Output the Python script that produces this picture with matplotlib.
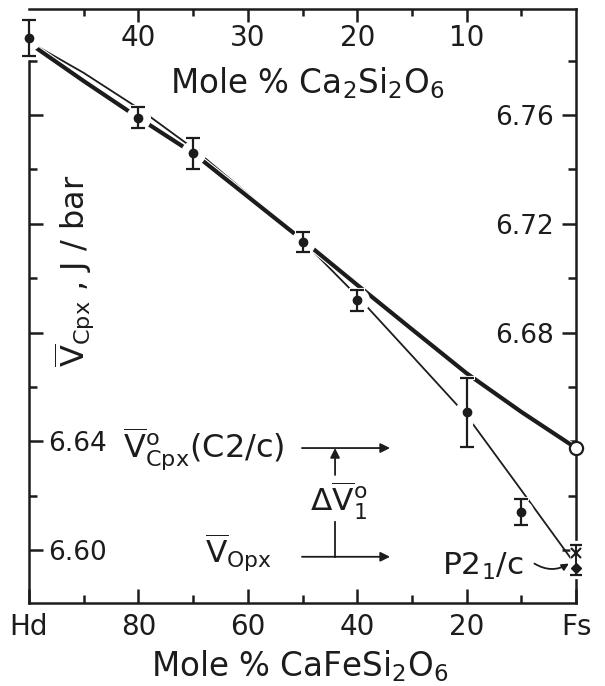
import matplotlib
matplotlib.use('Agg')
import matplotlib.pyplot as plt
import matplotlib.patheffects as pe

plt.rcParams['font.family'] = ['DejaVu Sans']
plt.rcParams['mathtext.default'] = 'regular'

ink = '#1c1c1c'

# ---------------- data ----------------
# measured (experimental) points, mole % CaFeSi2O6
pct_exp = [100, 80, 70, 50, 40, 20, 10]
v_exp = [6.7883, 6.7590, 6.7460, 6.7134, 6.6918, 6.6506, 6.6140]
v_err = [0.0065, 0.0039, 0.0057, 0.0037, 0.0040, 0.0127, 0.0049]

# fitted curves
pct_curve = [100, 90, 80, 70, 60, 50, 40, 30, 20, 10, 0]
v_c2c = [6.7865, 6.7725, 6.7590, 6.7460, 6.7300, 6.7140, 6.6975, 6.6812, 6.6650, 6.6508, 6.6375]
v_p21c = [6.7870, 6.7755, 6.7625, 6.7478, 6.7310, 6.7138, 6.6934, 6.6715, 6.6495, 6.6220, 6.5943]

# end-member Fs values
fs_c2c = 6.6375          # open circle, V°Cpx (C2/c)
fs_p21c_x = 6.5990       # x marker
fs_p21c_dot = 6.5935     # filled marker
fs_p21c_lo, fs_p21c_hi = 6.5908, 6.6018
v_opx = 6.5975

bottom_ticks = [100, 80, 60, 40, 20, 0]
bottom_labels = ['Hd', '80', '60', '40', '20', 'Fs']
bottom_minor = [90, 70, 50, 30, 10]
top_ticks = [40, 30, 20, 10]
top_labels = ['40', '30', '20', '10']
top_minor = [45, 35, 25, 15, 5]
y_major = [6.60, 6.64, 6.68, 6.72, 6.76]
y_minor = [6.62, 6.66, 6.70, 6.74, 6.78]
left_labels = ['6.60', '6.64', '', '', '']
right_labels = ['', '', '6.68', '6.72', '6.76']

# ---------------- figure ----------------
fig = plt.figure(figsize=(6.05, 6.86), dpi=100)
ax = fig.add_axes([29/605, 83/686, 547/605, 594/686])
ax.set_xlim(100, 0)
ax.set_ylim(6.5805, 6.799)

# curves
ax.plot(pct_curve, v_p21c, color=ink, lw=1.3, zorder=2, solid_capstyle='butt')
ax.plot(pct_curve, v_c2c, color=ink, lw=3.0, zorder=3, solid_capstyle='butt',
        path_effects=[pe.Stroke(linewidth=4.6, foreground='white'), pe.Normal()])

def set_noclip(cont):
    for ch in cont.get_children():
        ch.set_clip_on(False)

# experimental points with white halo
halo = ax.errorbar(pct_exp, v_exp, yerr=v_err, fmt='o', ms=17, color='white',
                   elinewidth=8, capsize=5.5, capthick=3, zorder=4)
set_noclip(halo)
pts = ax.errorbar(pct_exp, v_exp, yerr=v_err, fmt='o', ms=6, color=ink,
                  elinewidth=1.6, capsize=4.7, capthick=1.6, zorder=5)
set_noclip(pts)

# Fs P21/c bracket
fs_mid = (fs_p21c_lo + fs_p21c_hi) / 2
fs_half = (fs_p21c_hi - fs_p21c_lo) / 2
h2 = ax.errorbar([0], [fs_mid], yerr=[fs_half], fmt='none', color='white',
                 elinewidth=9, capsize=7, capthick=6, zorder=4)
set_noclip(h2)
b2 = ax.errorbar([0], [fs_mid], yerr=[fs_half], fmt='none', color=ink,
                 elinewidth=1.4, capsize=4, capthick=1.6, zorder=5)
set_noclip(b2)
ax.plot([0], [fs_p21c_x], 'x', ms=7, mew=1.5, color=ink, zorder=6, clip_on=False)
ax.plot([0], [fs_p21c_dot], 'D', ms=5.5, color=ink, zorder=6, clip_on=False)

# Fs C2/c open circle
ax.plot([0], [fs_c2c], 'o', ms=9.5, mfc='white', mec=ink, mew=1.6, zorder=6, clip_on=False)

# ---------------- axes styling ----------------
for s in ['left', 'right', 'bottom']:
    ax.spines[s].set_linewidth(1.8)
    ax.spines[s].set_color(ink)
ax.spines['top'].set_visible(False)
ax.spines['left'].set_bounds(6.5805, 6.78)

ax.set_xticks(bottom_ticks, bottom_labels)
ax.set_xticks(bottom_minor, minor=True)
ax.set_yticks(y_major, left_labels)
ax.set_yticks(y_minor, minor=True)
ax.tick_params(which='both', direction='in', width=1.8, color=ink, labelcolor=ink,
               left=True, right=True, bottom=True, top=False)
ax.tick_params(which='major', length=10)
ax.tick_params(which='minor', length=6)
ax.tick_params(axis='x', labelsize=20, pad=7)
ax.tick_params(axis='y', labelsize=19, pad=-14)
for lab in ax.get_yticklabels():
    lab.set_ha('left')

sec_y = ax.secondary_yaxis('right')
sec_y.set_yticks(y_major, right_labels)
sec_y.tick_params(length=0, labelsize=19, pad=-16, labelcolor=ink)
sec_y.spines['right'].set_visible(False)
for lab in sec_y.get_yticklabels():
    lab.set_ha('right')

sec_x = ax.secondary_xaxis('top', functions=(lambda p: p / 2, lambda c: c * 2))
sec_x.set_xticks(top_ticks, top_labels)
sec_x.set_xticks(top_minor, minor=True)
sec_x.spines['top'].set_linewidth(1.8)
sec_x.spines['top'].set_color(ink)
sec_x.tick_params(which='both', direction='in', width=1.8, color=ink, labelcolor=ink)
sec_x.tick_params(which='major', length=9, labelsize=20, pad=-31)
sec_x.tick_params(which='minor', length=5)

# axis titles
fig.text(300/605, 1 - 676/686, r'Mole % CaFeSi$_2$O$_6$', ha='center', va='baseline',
         fontsize=23.5, color=ink)
fig.text(307/605, 1 - 93/686, r'Mole % Ca$_2$Si$_2$O$_6$', ha='center', va='baseline',
         fontsize=23.5, color=ink)
ax.text(0.083, 0.56, r'$\overline{V}_{Cpx}$ , J / bar', rotation=90, transform=ax.transAxes,
        ha='center', va='center', fontsize=23, color=ink)

# annotations
ax.text(82.8, 6.6338, r'$\overline{V}^{o}_{Cpx}$(C2/c)', ha='left', va='baseline',
        fontsize=23, color=ink)
ax.text(48.6, 6.6140, r'$\Delta\overline{V}^{o}_{1}$', ha='left', va='baseline',
        fontsize=22.5, color=ink)
ax.text(67.8, 6.5952, r'$\overline{V}_{Opx}$', ha='left', va='baseline',
        fontsize=22.5, color=ink)
ax.text(24.5, 6.5908, r'P2$_1$/c', ha='left', va='baseline', fontsize=22.5, color=ink)

arrow_kw = dict(arrowstyle='-|>', color=ink, lw=1.3, mutation_scale=14, shrinkA=0, shrinkB=0)
ax.annotate('', xy=(34.0, fs_c2c), xytext=(50.1, fs_c2c), arrowprops=arrow_kw)
ax.annotate('', xy=(44.05, fs_c2c), xytext=(44.05, 6.6276), arrowprops=arrow_kw)
ax.annotate('', xy=(34.0, v_opx), xytext=(50.1, v_opx), arrowprops=arrow_kw)
ax.plot([44.05, 44.05], [6.6103, v_opx], color=ink, lw=1.3)
ax.annotate('', xy=(1.3, 6.5950), xytext=(7.6, 6.5950),
            arrowprops=dict(arrowstyle='-|>', color=ink, lw=1.3, mutation_scale=10,
                            shrinkA=0, shrinkB=0, connectionstyle='arc3,rad=0.3'))

fig.savefig('out.png', dpi=100)
